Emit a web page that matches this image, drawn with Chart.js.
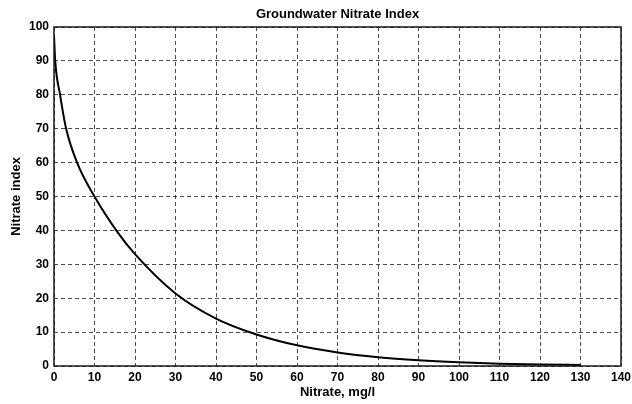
<!DOCTYPE html>
<html>
<head>
<meta charset="utf-8">
<script src="https://cdn.jsdelivr.net/npm/chart.js@4"></script>
<style>
  html, body { margin: 0; padding: 0; background: #fff; }
  #wrap { width: 632px; height: 404px; }
</style>
</head>
<body>
<div id="wrap"><canvas id="chart" width="632" height="404"></canvas></div>
<script>
// Nitrate concentration (mg/l) and the index
const nitrateMgL = [0, 0.3, 1.5, 3, 5.7, 10, 15.5, 20, 30, 40, 50, 60, 70, 80, 90, 100, 110, 120, 130];
const nitrateIndex = [97.5, 90, 80, 70, 60, 50, 39.8, 33, 21.4, 14, 9.3, 6.1, 4.0, 2.6, 1.7, 1.1, 0.7, 0.45, 0.3];

const xTicks = [0, 10, 20, 30, 40, 50, 60, 70, 80, 90, 100, 110, 120, 130, 140];
const yTicks = [0, 10, 20, 30, 40, 50, 60, 70, 80, 90, 100];

const FONT = '"Liberation Sans", Arial, Helvetica, sans-serif';
const GRID = 'rgba(0, 0, 0, 0.7)';

// solid box around the plot area, like the matlab axes
const frame = {
    id: 'frame',
    afterDatasetsDraw(chart) {
        const { ctx, chartArea: a } = chart;
        ctx.save();
        ctx.strokeStyle = '#1a1a1a';
        ctx.lineWidth = 1.5;
        ctx.setLineDash([]);
        ctx.strokeRect(a.left, a.top, a.right - a.left, a.bottom - a.top);
        ctx.restore();
    },
};

const points = nitrateMgL.map((x, i) => ({ x, y: nitrateIndex[i] }));

new Chart(document.getElementById('chart'), {
    type: 'line',
    data: {
        datasets: [{
            label: 'Nitrate index',
            data: points,
            borderColor: '#000',
            borderWidth: 2,
            pointRadius: 0,
            fill: false,
            cubicInterpolationMode: 'monotone',
        }],
    },
    options: {
        responsive: false,
        animation: false,
        layout: { padding: { left: 0, right: 11, top: 0, bottom: 0 } },
        plugins: {
            legend: { display: false },
            tooltip: { enabled: false },
            title: {
                display: true,
                fullSize: false, // centre over the plot, not the canvas
                text: 'Groundwater Nitrate Index',
                color: '#000',
                font: { family: FONT, size: 13, weight: 'bold', lineHeight: 1.2 },
                padding: { top: 7, bottom: 4.4 },
            },
        },
        scales: {
            x: {
                type: 'linear',
                min: 0,
                max: 140,
                afterBuildTicks: (s) => { s.ticks = xTicks.map((v) => ({ value: v })); },
                afterFit: (s) => {
                    s.height = 38;
                    // let the "140" label hang past the plot edge
                    s.paddingRight = 0;
                    s.paddingLeft = 0;
                },
                ticks: {
                    color: '#000',
                    padding: 4,
                    maxRotation: 0,
                    autoSkip: false,
                    font: { family: FONT, size: 12, weight: 'bold' },
                },
                grid: { color: GRID, lineWidth: 1, drawTicks: false },
                border: { display: false, dash: [4, 3] },
                title: {
                    display: true,
                    text: 'Nitrate, mg/l',
                    color: '#000',
                    font: { family: FONT, size: 13, weight: 'bold', lineHeight: 1.2 },
                    padding: { top: 0, bottom: 3.5 },
                },
            },
            y: {
                type: 'linear',
                min: 0,
                max: 100,
                afterBuildTicks: (s) => { s.ticks = yTicks.map((v) => ({ value: v })); },
                afterFit: (s) => { s.width = 54; },
                ticks: {
                    color: '#000',
                    padding: 5,
                    autoSkip: false,
                    font: { family: FONT, size: 12, weight: 'bold' },
                },
                grid: { color: GRID, lineWidth: 1, drawTicks: false },
                border: { display: false, dash: [4, 3] },
                title: {
                    display: true,
                    text: 'Nitrate index',
                    color: '#000',
                    font: { family: FONT, size: 13, weight: 'bold', lineHeight: 1.2 },
                    padding: { top: 9, bottom: 0 },
                },
            },
        },
    },
    plugins: [frame],
});
</script>
</body>
</html>
